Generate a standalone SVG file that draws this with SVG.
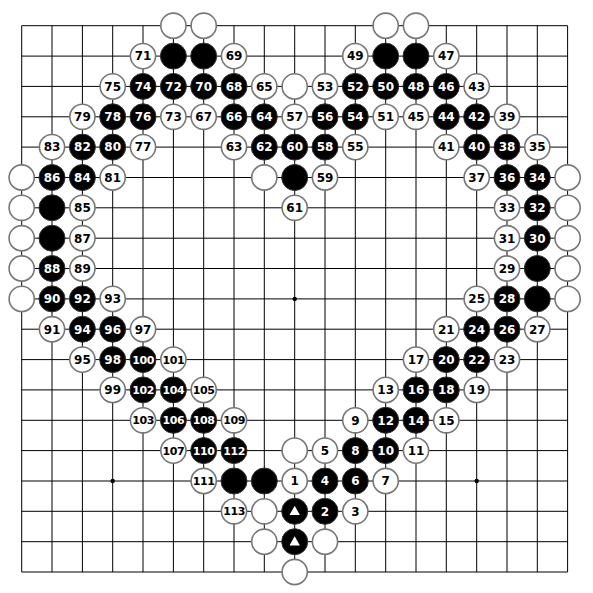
<svg xmlns="http://www.w3.org/2000/svg" width="593" height="593" viewBox="0 0 593 593">
<style>
.grid{stroke:#000;stroke-width:1;fill:none}
.w{fill:#fff;stroke:#777;stroke-width:1.6}
.b{fill:#000;stroke:#333;stroke-width:1}
text{font-family:"DejaVu Sans","Verdana",sans-serif;font-weight:bold;font-size:12px;text-anchor:middle}
.tb{fill:#000}
.tw{fill:#fff}
.t3{font-size:11px;letter-spacing:-0.4px}
.star{fill:#000}
.tri{fill:#fff}
</style>
<rect width="593" height="593" fill="#fff"/>
<g id="connectors">
<path class="grid" d="M21.7 25.7V572M52 25.7V572M82.4 25.7V572M112.7 25.7V572M143 25.7V572M173.4 25.7V572M203.7 25.7V572M234 25.7V572M264.3 25.7V572M294.7 25.7V572M325 25.7V572M355.3 25.7V572M385.7 25.7V572M416 25.7V572M446.3 25.7V572M476.7 25.7V572M507 25.7V572M537.3 25.7V572M567.6 25.7V572
M21.7 25.7H567.6M21.7 56.1H567.6M21.7 86.4H567.6M21.7 116.8H567.6M21.7 147.1H567.6M21.7 177.5H567.6M21.7 207.8H567.6M21.7 238.2H567.6M21.7 268.5H567.6M21.7 298.9H567.6M21.7 329.2H567.6M21.7 359.6H567.6M21.7 389.9H567.6M21.7 420.3H567.6M21.7 450.6H567.6M21.7 481H567.6M21.7 511.3H567.6M21.7 541.7H567.6M21.7 572H567.6"/>
<circle class="star" cx="112.7" cy="481" r="2.2"/>
<circle class="star" cx="294.7" cy="298.9" r="2.2"/>
<circle class="star" cx="476.7" cy="481" r="2.2"/>
</g>
<g id="stones">
<!-- row 0 -->
<g id="w_5_0" transform="translate(173.4,25.7)"><circle class="w" r="12.6"/></g>
<g id="w_6_0" transform="translate(203.7,25.7)"><circle class="w" r="12.6"/></g>
<g id="w_12_0" transform="translate(385.7,25.7)"><circle class="w" r="12.6"/></g>
<g id="w_13_0" transform="translate(416,25.7)"><circle class="w" r="12.6"/></g>
<!-- row 1 -->
<g id="m71" transform="translate(143,56.1)"><circle class="w" r="12.6"/><text class="tb" y="4.3">71</text></g>
<g id="b_5_1" transform="translate(173.4,56.1)"><circle class="b" r="13"/></g>
<g id="b_6_1" transform="translate(203.7,56.1)"><circle class="b" r="13"/></g>
<g id="m69" transform="translate(234,56.1)"><circle class="w" r="12.6"/><text class="tb" y="4.3">69</text></g>
<g id="m49" transform="translate(355.3,56.1)"><circle class="w" r="12.6"/><text class="tb" y="4.3">49</text></g>
<g id="b_12_1" transform="translate(385.7,56.1)"><circle class="b" r="13"/></g>
<g id="b_13_1" transform="translate(416,56.1)"><circle class="b" r="13"/></g>
<g id="m47" transform="translate(446.3,56.1)"><circle class="w" r="12.6"/><text class="tb" y="4.3">47</text></g>
<!-- row 2 -->
<g id="m75" transform="translate(112.7,86.4)"><circle class="w" r="12.6"/><text class="tb" y="4.3">75</text></g>
<g id="m74" transform="translate(143,86.4)"><circle class="b" r="13"/><text class="tw" y="4.3">74</text></g>
<g id="m72" transform="translate(173.4,86.4)"><circle class="b" r="13"/><text class="tw" y="4.3">72</text></g>
<g id="m70" transform="translate(203.7,86.4)"><circle class="b" r="13"/><text class="tw" y="4.3">70</text></g>
<g id="m68" transform="translate(234,86.4)"><circle class="b" r="13"/><text class="tw" y="4.3">68</text></g>
<g id="m65" transform="translate(264.3,86.4)"><circle class="w" r="12.6"/><text class="tb" y="4.3">65</text></g>
<g id="w_9_2" transform="translate(294.7,86.4)"><circle class="w" r="12.6"/></g>
<g id="m53" transform="translate(325,86.4)"><circle class="w" r="12.6"/><text class="tb" y="4.3">53</text></g>
<g id="m52" transform="translate(355.3,86.4)"><circle class="b" r="13"/><text class="tw" y="4.3">52</text></g>
<g id="m50" transform="translate(385.7,86.4)"><circle class="b" r="13"/><text class="tw" y="4.3">50</text></g>
<g id="m48" transform="translate(416,86.4)"><circle class="b" r="13"/><text class="tw" y="4.3">48</text></g>
<g id="m46" transform="translate(446.3,86.4)"><circle class="b" r="13"/><text class="tw" y="4.3">46</text></g>
<g id="m43" transform="translate(476.7,86.4)"><circle class="w" r="12.6"/><text class="tb" y="4.3">43</text></g>
<!-- row 3 -->
<g id="m79" transform="translate(82.4,116.8)"><circle class="w" r="12.6"/><text class="tb" y="4.3">79</text></g>
<g id="m78" transform="translate(112.7,116.8)"><circle class="b" r="13"/><text class="tw" y="4.3">78</text></g>
<g id="m76" transform="translate(143,116.8)"><circle class="b" r="13"/><text class="tw" y="4.3">76</text></g>
<g id="m73" transform="translate(173.4,116.8)"><circle class="w" r="12.6"/><text class="tb" y="4.3">73</text></g>
<g id="m67" transform="translate(203.7,116.8)"><circle class="w" r="12.6"/><text class="tb" y="4.3">67</text></g>
<g id="m66" transform="translate(234,116.8)"><circle class="b" r="13"/><text class="tw" y="4.3">66</text></g>
<g id="m64" transform="translate(264.3,116.8)"><circle class="b" r="13"/><text class="tw" y="4.3">64</text></g>
<g id="m57" transform="translate(294.7,116.8)"><circle class="w" r="12.6"/><text class="tb" y="4.3">57</text></g>
<g id="m56" transform="translate(325,116.8)"><circle class="b" r="13"/><text class="tw" y="4.3">56</text></g>
<g id="m54" transform="translate(355.3,116.8)"><circle class="b" r="13"/><text class="tw" y="4.3">54</text></g>
<g id="m51" transform="translate(385.7,116.8)"><circle class="w" r="12.6"/><text class="tb" y="4.3">51</text></g>
<g id="m45" transform="translate(416,116.8)"><circle class="w" r="12.6"/><text class="tb" y="4.3">45</text></g>
<g id="m44" transform="translate(446.3,116.8)"><circle class="b" r="13"/><text class="tw" y="4.3">44</text></g>
<g id="m42" transform="translate(476.7,116.8)"><circle class="b" r="13"/><text class="tw" y="4.3">42</text></g>
<g id="m39" transform="translate(507,116.8)"><circle class="w" r="12.6"/><text class="tb" y="4.3">39</text></g>
<!-- row 4 -->
<g id="m83" transform="translate(52,147.1)"><circle class="w" r="12.6"/><text class="tb" y="4.3">83</text></g>
<g id="m82" transform="translate(82.4,147.1)"><circle class="b" r="13"/><text class="tw" y="4.3">82</text></g>
<g id="m80" transform="translate(112.7,147.1)"><circle class="b" r="13"/><text class="tw" y="4.3">80</text></g>
<g id="m77" transform="translate(143,147.1)"><circle class="w" r="12.6"/><text class="tb" y="4.3">77</text></g>
<g id="m63" transform="translate(234,147.1)"><circle class="w" r="12.6"/><text class="tb" y="4.3">63</text></g>
<g id="m62" transform="translate(264.3,147.1)"><circle class="b" r="13"/><text class="tw" y="4.3">62</text></g>
<g id="m60" transform="translate(294.7,147.1)"><circle class="b" r="13"/><text class="tw" y="4.3">60</text></g>
<g id="m58" transform="translate(325,147.1)"><circle class="b" r="13"/><text class="tw" y="4.3">58</text></g>
<g id="m55" transform="translate(355.3,147.1)"><circle class="w" r="12.6"/><text class="tb" y="4.3">55</text></g>
<g id="m41" transform="translate(446.3,147.1)"><circle class="w" r="12.6"/><text class="tb" y="4.3">41</text></g>
<g id="m40" transform="translate(476.7,147.1)"><circle class="b" r="13"/><text class="tw" y="4.3">40</text></g>
<g id="m38" transform="translate(507,147.1)"><circle class="b" r="13"/><text class="tw" y="4.3">38</text></g>
<g id="m35" transform="translate(537.3,147.1)"><circle class="w" r="12.6"/><text class="tb" y="4.3">35</text></g>
<!-- row 5 -->
<g id="w_0_5" transform="translate(21.7,177.5)"><circle class="w" r="12.6"/></g>
<g id="m86" transform="translate(52,177.5)"><circle class="b" r="13"/><text class="tw" y="4.3">86</text></g>
<g id="m84" transform="translate(82.4,177.5)"><circle class="b" r="13"/><text class="tw" y="4.3">84</text></g>
<g id="m81" transform="translate(112.7,177.5)"><circle class="w" r="12.6"/><text class="tb" y="4.3">81</text></g>
<g id="w_8_5" transform="translate(264.3,177.5)"><circle class="w" r="12.6"/></g>
<g id="b_9_5" transform="translate(294.7,177.5)"><circle class="b" r="13"/></g>
<g id="m59" transform="translate(325,177.5)"><circle class="w" r="12.6"/><text class="tb" y="4.3">59</text></g>
<g id="m37" transform="translate(476.7,177.5)"><circle class="w" r="12.6"/><text class="tb" y="4.3">37</text></g>
<g id="m36" transform="translate(507,177.5)"><circle class="b" r="13"/><text class="tw" y="4.3">36</text></g>
<g id="m34" transform="translate(537.3,177.5)"><circle class="b" r="13"/><text class="tw" y="4.3">34</text></g>
<g id="w_18_5" transform="translate(567.6,177.5)"><circle class="w" r="12.6"/></g>
<!-- row 6 -->
<g id="w_0_6" transform="translate(21.7,207.8)"><circle class="w" r="12.6"/></g>
<g id="b_1_6" transform="translate(52,207.8)"><circle class="b" r="13"/></g>
<g id="m85" transform="translate(82.4,207.8)"><circle class="w" r="12.6"/><text class="tb" y="4.3">85</text></g>
<g id="m61" transform="translate(294.7,207.8)"><circle class="w" r="12.6"/><text class="tb" y="4.3">61</text></g>
<g id="m33" transform="translate(507,207.8)"><circle class="w" r="12.6"/><text class="tb" y="4.3">33</text></g>
<g id="m32" transform="translate(537.3,207.8)"><circle class="b" r="13"/><text class="tw" y="4.3">32</text></g>
<g id="w_18_6" transform="translate(567.6,207.8)"><circle class="w" r="12.6"/></g>
<!-- row 7 -->
<g id="w_0_7" transform="translate(21.7,238.2)"><circle class="w" r="12.6"/></g>
<g id="b_1_7" transform="translate(52,238.2)"><circle class="b" r="13"/></g>
<g id="m87" transform="translate(82.4,238.2)"><circle class="w" r="12.6"/><text class="tb" y="4.3">87</text></g>
<g id="m31" transform="translate(507,238.2)"><circle class="w" r="12.6"/><text class="tb" y="4.3">31</text></g>
<g id="m30" transform="translate(537.3,238.2)"><circle class="b" r="13"/><text class="tw" y="4.3">30</text></g>
<g id="w_18_7" transform="translate(567.6,238.2)"><circle class="w" r="12.6"/></g>
<!-- row 8 -->
<g id="w_0_8" transform="translate(21.7,268.5)"><circle class="w" r="12.6"/></g>
<g id="m88" transform="translate(52,268.5)"><circle class="b" r="13"/><text class="tw" y="4.3">88</text></g>
<g id="m89" transform="translate(82.4,268.5)"><circle class="w" r="12.6"/><text class="tb" y="4.3">89</text></g>
<g id="m29" transform="translate(507,268.5)"><circle class="w" r="12.6"/><text class="tb" y="4.3">29</text></g>
<g id="b_17_8" transform="translate(537.3,268.5)"><circle class="b" r="13"/></g>
<g id="w_18_8" transform="translate(567.6,268.5)"><circle class="w" r="12.6"/></g>
<!-- row 9 -->
<g id="w_0_9" transform="translate(21.7,298.9)"><circle class="w" r="12.6"/></g>
<g id="m90" transform="translate(52,298.9)"><circle class="b" r="13"/><text class="tw" y="4.3">90</text></g>
<g id="m92" transform="translate(82.4,298.9)"><circle class="b" r="13"/><text class="tw" y="4.3">92</text></g>
<g id="m93" transform="translate(112.7,298.9)"><circle class="w" r="12.6"/><text class="tb" y="4.3">93</text></g>
<g id="m25" transform="translate(476.7,298.9)"><circle class="w" r="12.6"/><text class="tb" y="4.3">25</text></g>
<g id="m28" transform="translate(507,298.9)"><circle class="b" r="13"/><text class="tw" y="4.3">28</text></g>
<g id="b_17_9" transform="translate(537.3,298.9)"><circle class="b" r="13"/></g>
<g id="w_18_9" transform="translate(567.6,298.9)"><circle class="w" r="12.6"/></g>
<!-- row 10 -->
<g id="m91" transform="translate(52,329.2)"><circle class="w" r="12.6"/><text class="tb" y="4.3">91</text></g>
<g id="m94" transform="translate(82.4,329.2)"><circle class="b" r="13"/><text class="tw" y="4.3">94</text></g>
<g id="m96" transform="translate(112.7,329.2)"><circle class="b" r="13"/><text class="tw" y="4.3">96</text></g>
<g id="m97" transform="translate(143,329.2)"><circle class="w" r="12.6"/><text class="tb" y="4.3">97</text></g>
<g id="m21" transform="translate(446.3,329.2)"><circle class="w" r="12.6"/><text class="tb" y="4.3">21</text></g>
<g id="m24" transform="translate(476.7,329.2)"><circle class="b" r="13"/><text class="tw" y="4.3">24</text></g>
<g id="m26" transform="translate(507,329.2)"><circle class="b" r="13"/><text class="tw" y="4.3">26</text></g>
<g id="m27" transform="translate(537.3,329.2)"><circle class="w" r="12.6"/><text class="tb" y="4.3">27</text></g>
<!-- row 11 -->
<g id="m95" transform="translate(82.4,359.6)"><circle class="w" r="12.6"/><text class="tb" y="4.3">95</text></g>
<g id="m98" transform="translate(112.7,359.6)"><circle class="b" r="13"/><text class="tw" y="4.3">98</text></g>
<g id="m100" transform="translate(143,359.6)"><circle class="b" r="13"/><text class="tw t3" y="4">100</text></g>
<g id="m101" transform="translate(173.4,359.6)"><circle class="w" r="12.6"/><text class="tb t3" y="4">101</text></g>
<g id="m17" transform="translate(416,359.6)"><circle class="w" r="12.6"/><text class="tb" y="4.3">17</text></g>
<g id="m20" transform="translate(446.3,359.6)"><circle class="b" r="13"/><text class="tw" y="4.3">20</text></g>
<g id="m22" transform="translate(476.7,359.6)"><circle class="b" r="13"/><text class="tw" y="4.3">22</text></g>
<g id="m23" transform="translate(507,359.6)"><circle class="w" r="12.6"/><text class="tb" y="4.3">23</text></g>
<!-- row 12 -->
<g id="m99" transform="translate(112.7,389.9)"><circle class="w" r="12.6"/><text class="tb" y="4.3">99</text></g>
<g id="m102" transform="translate(143,389.9)"><circle class="b" r="13"/><text class="tw t3" y="4">102</text></g>
<g id="m104" transform="translate(173.4,389.9)"><circle class="b" r="13"/><text class="tw t3" y="4">104</text></g>
<g id="m105" transform="translate(203.7,389.9)"><circle class="w" r="12.6"/><text class="tb t3" y="4">105</text></g>
<g id="m13" transform="translate(385.7,389.9)"><circle class="w" r="12.6"/><text class="tb" y="4.3">13</text></g>
<g id="m16" transform="translate(416,389.9)"><circle class="b" r="13"/><text class="tw" y="4.3">16</text></g>
<g id="m18" transform="translate(446.3,389.9)"><circle class="b" r="13"/><text class="tw" y="4.3">18</text></g>
<g id="m19" transform="translate(476.7,389.9)"><circle class="w" r="12.6"/><text class="tb" y="4.3">19</text></g>
<!-- row 13 -->
<g id="m103" transform="translate(143,420.3)"><circle class="w" r="12.6"/><text class="tb t3" y="4">103</text></g>
<g id="m106" transform="translate(173.4,420.3)"><circle class="b" r="13"/><text class="tw t3" y="4">106</text></g>
<g id="m108" transform="translate(203.7,420.3)"><circle class="b" r="13"/><text class="tw t3" y="4">108</text></g>
<g id="m109" transform="translate(234,420.3)"><circle class="w" r="12.6"/><text class="tb t3" y="4">109</text></g>
<g id="m9" transform="translate(355.3,420.3)"><circle class="w" r="12.6"/><text class="tb" y="4.3">9</text></g>
<g id="m12" transform="translate(385.7,420.3)"><circle class="b" r="13"/><text class="tw" y="4.3">12</text></g>
<g id="m14" transform="translate(416,420.3)"><circle class="b" r="13"/><text class="tw" y="4.3">14</text></g>
<g id="m15" transform="translate(446.3,420.3)"><circle class="w" r="12.6"/><text class="tb" y="4.3">15</text></g>
<!-- row 14 -->
<g id="m107" transform="translate(173.4,450.6)"><circle class="w" r="12.6"/><text class="tb t3" y="4">107</text></g>
<g id="m110" transform="translate(203.7,450.6)"><circle class="b" r="13"/><text class="tw t3" y="4">110</text></g>
<g id="m112" transform="translate(234,450.6)"><circle class="b" r="13"/><text class="tw t3" y="4">112</text></g>
<g id="w_9_14" transform="translate(294.7,450.6)"><circle class="w" r="12.6"/></g>
<g id="m5" transform="translate(325,450.6)"><circle class="w" r="12.6"/><text class="tb" y="4.3">5</text></g>
<g id="m8" transform="translate(355.3,450.6)"><circle class="b" r="13"/><text class="tw" y="4.3">8</text></g>
<g id="m10" transform="translate(385.7,450.6)"><circle class="b" r="13"/><text class="tw" y="4.3">10</text></g>
<g id="m11" transform="translate(416,450.6)"><circle class="w" r="12.6"/><text class="tb" y="4.3">11</text></g>
<!-- row 15 -->
<g id="m111" transform="translate(203.7,481)"><circle class="w" r="12.6"/><text class="tb t3" y="4">111</text></g>
<g id="b_7_15" transform="translate(234,481)"><circle class="b" r="13"/></g>
<g id="b_8_15" transform="translate(264.3,481)"><circle class="b" r="13"/></g>
<g id="m1" transform="translate(294.7,481)"><circle class="w" r="12.6"/><text class="tb" y="4.3">1</text></g>
<g id="m4" transform="translate(325,481)"><circle class="b" r="13"/><text class="tw" y="4.3">4</text></g>
<g id="m6" transform="translate(355.3,481)"><circle class="b" r="13"/><text class="tw" y="4.3">6</text></g>
<g id="m7" transform="translate(385.7,481)"><circle class="w" r="12.6"/><text class="tb" y="4.3">7</text></g>
<!-- row 16 -->
<g id="m113" transform="translate(234,511.3)"><circle class="w" r="12.6"/><text class="tb t3" y="4">113</text></g>
<g id="w_8_16" transform="translate(264.3,511.3)"><circle class="w" r="12.6"/></g>
<g id="b_9_16" transform="translate(294.7,511.3)"><circle class="b" r="13"/><path class="tri" d="M0 -5.5L5.2 3.8H-5.2Z"/></g>
<g id="m2" transform="translate(325,511.3)"><circle class="b" r="13"/><text class="tw" y="4.3">2</text></g>
<g id="m3" transform="translate(355.3,511.3)"><circle class="w" r="12.6"/><text class="tb" y="4.3">3</text></g>
<!-- row 17 -->
<g id="w_8_17" transform="translate(264.3,541.7)"><circle class="w" r="12.6"/></g>
<g id="b_9_17" transform="translate(294.7,541.7)"><circle class="b" r="13"/><path class="tri" d="M0 -5.5L5.2 3.8H-5.2Z"/></g>
<g id="w_10_17" transform="translate(325,541.7)"><circle class="w" r="12.6"/></g>
<!-- row 18 -->
<g id="w_9_18" transform="translate(294.7,572)"><circle class="w" r="12.6"/></g>
</g>
</svg>
